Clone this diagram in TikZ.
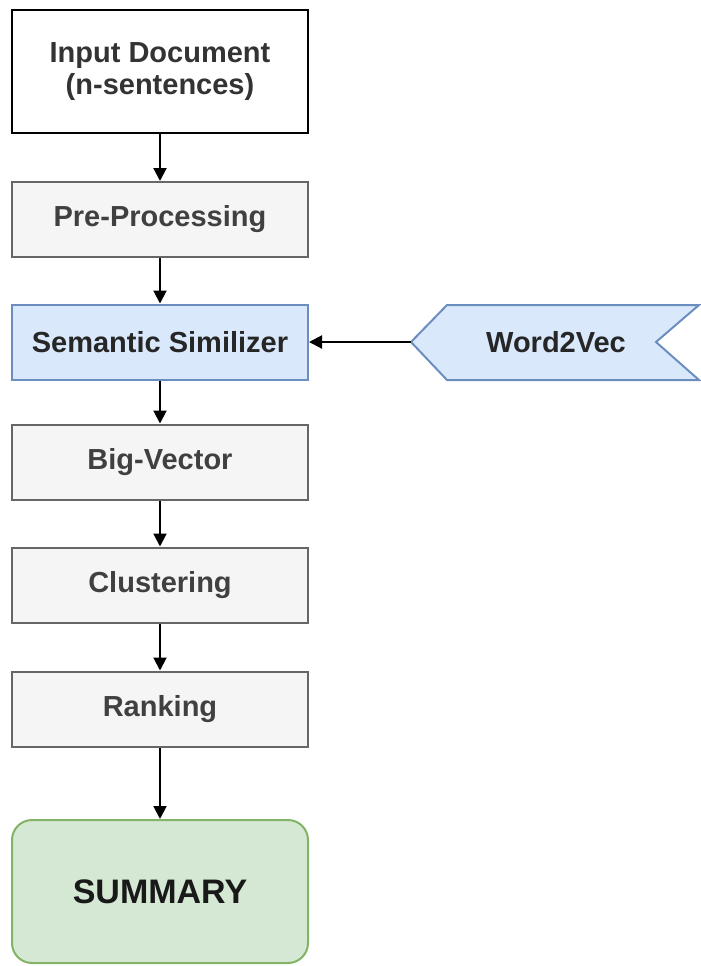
\documentclass[tikz,border=0pt]{standalone}
\usepackage{fontspec}
\setmainfont{Liberation Sans}
\usetikzlibrary{arrows.meta}
\definecolor{greyfill}{HTML}{F5F5F5}
\definecolor{greyline}{HTML}{666666}
\definecolor{greytext}{HTML}{404040}
\definecolor{bluefill}{HTML}{DAE8FC}
\definecolor{blueline}{HTML}{6C8EBF}
\definecolor{greenfill}{HTML}{D5E8D4}
\definecolor{greenline}{HTML}{82B366}

\begin{document}
\begin{tikzpicture}[x=0.5pt,y=-0.5pt,
		box/.style={draw=greyline, fill=greyfill, text=greytext, line width=1pt,
			minimum width=148pt, minimum height=37.5pt, inner sep=0pt,
			font=\bfseries\fontsize{14.5}{16}\selectfont},
		flow/.style={-{Triangle[length=6.5pt,width=6.5pt]}, line width=1pt}]
		\useasboundingbox (0,0) rectangle (701,966);
		% main column
		\node [box, draw=black, fill=white, text=black!80, minimum height=61.5pt, align=center] (input) at (160,71.5) {Input Document\\(n-sentences)};
		\node [box] (prep) at (160,219.5) {Pre-Processing};
		\node [box, fill=bluefill, draw=blueline, text=black!85] (sem) at (160,342) {Semantic Similizer};
		\node [box] (big) at (160,462) {Big-Vector};
		\node [box] (clus) at (160,585) {Clustering};
		\node [box] (rank) at (160,709) {Ranking};
		\node [box, rounded corners=10pt, fill=greenfill, draw=greenline, text=black!90, minimum height=71.5pt,
			font=\bfseries\fontsize{17}{19}\selectfont] (sum) at (160,891.5) {SUMMARY};
		% side input
		\draw [fill=bluefill, draw=blueline, line width=1pt] (411,342) -- (447,305) -- (699,305) -- (656,342) -- (699,380) -- (447,380) -- cycle;
		\node [text=black!85, font=\bfseries\fontsize{14.5}{16}\selectfont] (w2v) at (556,342) {Word2Vec};
		\coordinate (w2vtip) at (411,342);
		% connectors
		\draw [flow] (input) -- (prep);
		\draw [flow] (prep) -- (sem);
		\draw [flow] (sem) -- (big);
		\draw [flow] (big) -- (clus);
		\draw [flow] (clus) -- (rank);
		\draw [flow] (rank) -- (sum);
		\draw [flow] (w2vtip) -- (sem.east);
	\end{tikzpicture}
\end{document}
